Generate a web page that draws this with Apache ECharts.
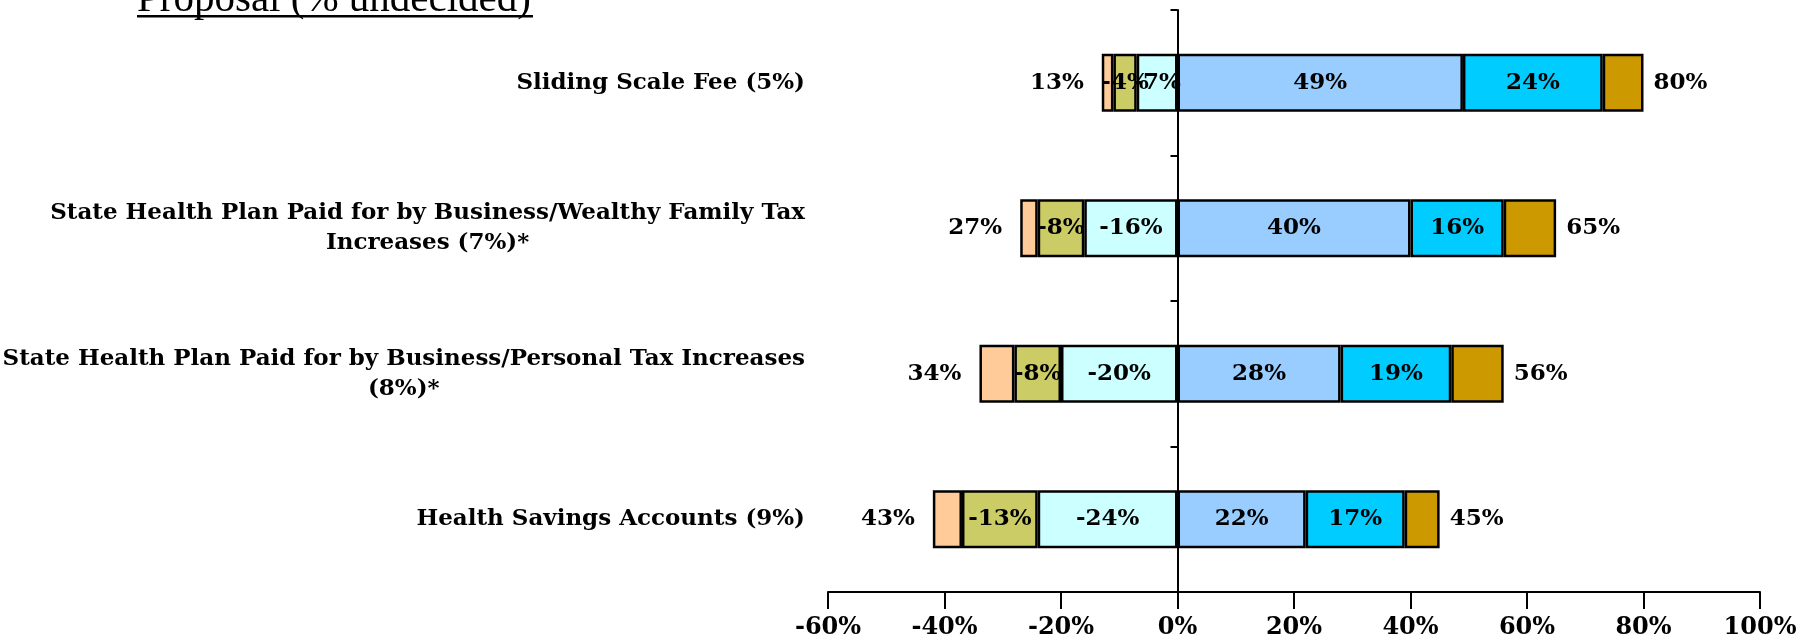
<!DOCTYPE html>
<html>
<head>
<meta charset="utf-8">
<script src="https://cdn.jsdelivr.net/npm/echarts@6/dist/echarts.min.js"></script>
<style>
  html, body { margin: 0; padding: 0; background: #fff; }
  #chart { width: 1812px; height: 642px; }
</style>
</head>
<body>
<div id="chart"></div>
<script>
// categories, top to bottom
let categories = [
  'Sliding Scale Fee (5%)',
  'State Health Plan Paid for by Business/Wealthy Family Tax\nIncreases (7%)*',
  'State Health Plan Paid for by Business/Personal Tax Increases\n(8%)*',
  'Health Savings Accounts (9%)'
];

// oppose side (drawn left of zero)
let leanOppose = [-7, -16, -20, -24];
let someOppose = [-4, -8, -8, -13];
let strongOppose = [-2, -3, -6, -5];
// favor side
let leanFavor = [49, 40, 28, 22];
let someFavor = [24, 16, 19, 17];
let strongFavor = [7, 9, 9, 6];

// totals printed at bar ends
let opposeTotals = [13, 27, 34, 43];
let favorTotals = [80, 65, 56, 45];

let xMin = -60, xMax = 100, xStep = 20;

let Colors = ['#CCFFFF', '#CCCC66', '#FFCC99', '#99CCFF', '#00CCFF', '#CC9900'];
let serif = '"DejaVu Serif", "Liberation Serif", serif';
let titleFont = '"Liberation Serif", "Times New Roman", serif';

let labelFont = {fontFamily: serif, fontWeight: 'bold', fontSize: 23, color: '#000'};

function barSeries(name, data, color, label) {
  return {
    name: name,
    type: 'bar',
    stack: 'all',
    data: data,
    barWidth: 58,
    itemStyle: {color: color, borderColor: '#000', borderWidth: 2.5},
    label: label,
    emphasis: {disabled: true}
  };
}

let inside = Object.assign({show: true, position: 'inside', formatter: p => p.value + '%'}, labelFont);

let option = {
  animation: false,
  backgroundColor: '#fff',
  grid: {left: 828, right: 52, top: 10, bottom: 50, containLabel: false, outerBoundsMode: 'none'},
  xAxis: {
    type: 'value',
    min: xMin, max: xMax, interval: xStep,
    axisLine: {show: true, lineStyle: {color: '#000', width: 2}},
    axisTick: {show: true, length: 17, lineStyle: {color: '#000', width: 2}},
    splitLine: {show: false},
    axisLabel: Object.assign({formatter: '{value}%', margin: 24}, labelFont, {fontSize: 24})
  },
  yAxis: {
    type: 'category',
    inverse: true,
    data: categories,
    axisLine: {show: true, onZero: true, lineStyle: {color: '#000', width: 2}},
    axisTick: {show: true, length: 7, lineStyle: {color: '#000', width: 2}},
    axisLabel: {
      margin: 23,
      formatter: v => v.split('\n').map(l => '{c|' + l + '}').join('\n'),
      rich: {
        c: {align: 'center', fontFamily: serif, fontWeight: 'bold', fontSize: 23, lineHeight: 30, color: '#000'}
      }
    }
  },
  graphic: [
    {
      type: 'text', left: 137, top: -20,
      style: {text: 'Proposal (% undecided)', fontFamily: titleFont, fontSize: 41, fill: '#000'}
    },
    {
      type: 'rect', shape: {x: 137, y: 15, width: 396, height: 2.5},
      style: {fill: '#000'}
    }
  ],
  series: [
    barSeries('Lean oppose', leanOppose, Colors[0], inside),
    barSeries('Somewhat oppose', someOppose, Colors[1], inside),
    barSeries('Strongly oppose', strongOppose, Colors[2],
      Object.assign({show: true, position: 'left', distance: 18,
        formatter: p => opposeTotals[p.dataIndex] + '%'}, labelFont)),
    barSeries('Lean favor', leanFavor, Colors[3], inside),
    barSeries('Somewhat favor', someFavor, Colors[4], inside),
    barSeries('Strongly favor', strongFavor, Colors[5],
      Object.assign({show: true, position: 'right', distance: 10,
        formatter: p => favorTotals[p.dataIndex] + '%'}, labelFont))
  ]
};

let myChart = echarts.init(document.getElementById('chart'));
myChart.setOption(option);
</script>
</body>
</html>
